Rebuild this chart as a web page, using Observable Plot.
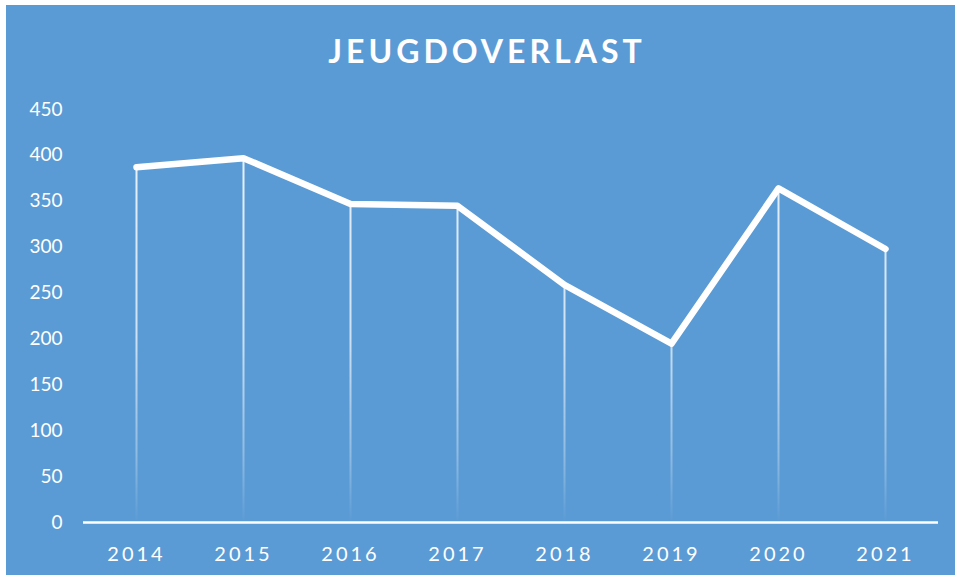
<!DOCTYPE html>
<html>
<head>
<meta charset="utf-8">
<script src="https://cdn.jsdelivr.net/npm/d3@7"></script>
<script src="https://cdn.jsdelivr.net/npm/@observablehq/plot@0.6"></script>
<style>
  html, body { margin: 0; padding: 0; background: #ffffff; }
  #panel {
    position: absolute; left: 6px; top: 5px; width: 949px; height: 570px;
    background: #5B9BD5; overflow: hidden;
  }
  #title {
    box-sizing: border-box; height: 80px; padding-top: 27px; padding-left: 13px;
    line-height: 38px; text-align: center; color: #ffffff;
    font-family: Lato, "Open Sans", sans-serif; font-weight: bold; font-size: 32px;
    letter-spacing: 4px;
  }
  #chart svg { display: block; }
  #chart g[aria-label="x-axis tick label"] text { letter-spacing: 3px; }
</style>
</head>
<body>
<div id="panel">
  <div id="title">JEUGDOVERLAST</div>
  <div id="chart"></div>
</div>
<script>
const years = ["2014", "2015", "2016", "2017", "2018", "2019", "2020", "2021"];
const values = [387, 397, 347, 345, 259, 195, 364, 298];
const yTicks = [0, 50, 100, 150, 200, 250, 300, 350, 400, 450];

const data = years.map((year, i) => ({year, value: values[i]}));

const W = 949, H = 490;
const mTop = 24, mBottom = 53;

const defs = () => {
  const d = d3.create("svg:defs");
  const g = d.append("linearGradient")
    .attr("id", "fade")
    .attr("gradientUnits", "userSpaceOnUse")
    .attr("x1", 0).attr("x2", 0)
    .attr("y1", mTop).attr("y2", H - mBottom);
  g.append("stop").attr("offset", "0").attr("stop-color", "#ffffff").attr("stop-opacity", 0.9);
  g.append("stop").attr("offset", "0.55").attr("stop-color", "#ffffff").attr("stop-opacity", 0.7);
  g.append("stop").attr("offset", "0.85").attr("stop-color", "#ffffff").attr("stop-opacity", 0.3);
  g.append("stop").attr("offset", "1").attr("stop-color", "#ffffff").attr("stop-opacity", 0);
  return d.node();
};

const chart = Plot.plot({
  width: W,
  height: H,
  marginTop: mTop,
  marginBottom: mBottom,
  marginLeft: 77,
  marginRight: 17,
  style: {background: "transparent", color: "#ffffff", overflow: "visible"},
  x: {type: "point", domain: years, range: [129, 879], padding: 0, label: null},
  y: {domain: [0, 450], label: null},
  marks: [
    defs,
    Plot.ruleX(data, {x: "year", y1: 0, y2: "value", stroke: "url(#fade)", strokeWidth: 2}),
    Plot.ruleY([0], {stroke: "#ffffff", strokeWidth: 2.5}),
    Plot.line(data, {x: "year", y: "value", stroke: "#ffffff", strokeWidth: 6.5, strokeLinejoin: "round", strokeLinecap: "round"}),
    Plot.axisY({ticks: yTicks, tickSize: 0, tickPadding: 21, fontSize: 19, fill: "#ffffff",
      fontFamily: "Lato, 'Open Sans', sans-serif", label: null}),
    Plot.axisX({tickSize: 0, tickPadding: 24, fontSize: 20, fill: "#ffffff",
      fontFamily: "Lato, 'Open Sans', sans-serif", label: null})
  ]
});

document.getElementById("chart").appendChild(chart);
</script>
</body>
</html>
